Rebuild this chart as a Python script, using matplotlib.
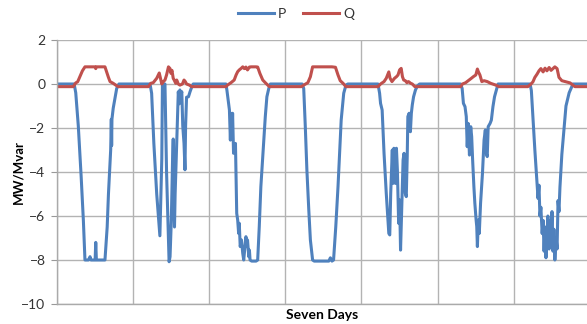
import numpy as np
import matplotlib.pyplot as plt

# night-time levels
P_NIGHT = 0.0
Q_NIGHT = -0.12

# ---- P (MW), hour of day / value, one pair of lists per day ----
p1_h = [5.5, 6.0, 6.8, 7.7, 8.4, 8.9, 10.0, 10.5, 10.8, 12.1, 12.3, 12.5, 15.2, 15.9, 16.3, 16.6, 17.0, 17.2, 17.3, 17.4, 17.8, 18.4, 18.9, 19.6]
p1_v = [0, -0.4, -1.9, -4.2, -6.2, -8.0, -8.0, -7.85, -8.0, -8.0, -7.2, -8.0, -8.0, -6.5, -5.0, -4.1, -3.0, -1.6, -2.8, -1.6, -1.1, -0.6, -0.2, 0]

p2_h = [5.4, 5.9, 6.6, 7.5, 8.5, 9.1, 9.3, 10.1, 10.6, 11.4, 11.7, 12.1, 12.5, 12.7, 13.1, 13.3, 13.8, 14.3, 14.6, 14.8, 15.0, 15.4, 15.7, 16.1, 16.4, 16.6, 16.9, 17.5, 18.0, 18.5, 19.0]
p2_v = [0, -0.42, -2.7, -5.0, -6.9, -3.4, 0, 0, -4.0, -8.08, -7.85, -6.2, -3.4, -2.5, -6.5, -5.0, -2.7, -0.35, -0.9, -0.27, -0.6, -0.35, -1.9, -2.7, -3.9, -1.9, -0.6, -0.58, -0.35, -0.15, 0]

p3_h = [5.3, 5.6, 6.4, 6.7, 6.9, 7.2, 7.4, 7.7, 8.3, 8.5, 8.7, 9.0, 9.3, 9.5, 9.8, 10.2, 10.6, 10.9, 11.2, 11.6, 11.9, 12.1, 12.5, 12.7, 12.9, 13.4, 14.8, 15.3, 15.8, 16.3, 17.1, 17.7, 18.2, 18.8, 19.3]
p3_v = [0, -0.27, -1.18, -2.55, -1.33, -2.39, -1.33, -3.15, -2.7, -4.21, -5.88, -6.18, -6.79, -6.33, -7.39, -7.09, -7.7, -8.0, -7.55, -6.94, -7.39, -7.09, -7.85, -7.55, -8.0, -8.05, -8.05, -8.0, -6.48, -4.67, -2.85, -1.48, -0.58, -0.2, 0]

p4_h = [5.3, 5.8, 6.3, 6.8, 7.4, 7.9, 8.6, 9.1, 13.7, 14.2, 14.7, 15.2, 15.9, 16.6, 17.0, 17.6, 18.4, 19.1, 19.7]
p4_v = [0, -0.2, -1.94, -3.91, -5.73, -7.09, -8.0, -8.05, -8.05, -7.9, -8.05, -8.0, -6.48, -4.67, -3.45, -1.64, -0.42, -0.05, 0]

p5_h = [5.2, 5.7, 6.0, 6.5, 7.1, 7.8, 8.6, 8.9, 9.2, 9.7, 9.9, 10.2, 10.7, 11.0, 11.3, 11.7, 12.0, 12.3, 12.7, 13.1, 13.4, 13.8, 14.1, 14.4, 14.6, 15.0, 15.4, 15.7, 16.0, 16.4, 17.0, 17.6, 18.3]
p5_v = [0, -0.42, -0.88, -1.18, -3.15, -4.97, -6.79, -6.86, -4.97, -3.0, -4.52, -2.92, -4.52, -2.92, -3.91, -6.33, -5.27, -7.55, -5.58, -3.45, -3.15, -4.97, -5.12, -3.3, -1.48, -1.33, -2.17, -1.33, -0.95, -0.58, -0.27, -0.09, 0]

p6_h = [7.2, 7.7, 8.1, 8.6, 9.0, 9.3, 9.6, 10.0, 10.4, 10.7, 11.0, 11.4, 11.7, 12.1, 12.3, 12.5, 12.8, 13.1, 13.5, 14.1, 14.6, 15.0, 15.3, 15.6, 15.9, 16.5, 16.9, 17.4, 17.9, 18.6, 19.0]
p6_v = [0, -0.2, -0.88, -1.03, -1.48, -2.85, -1.79, -3.23, -1.94, -2.39, -3.45, -4.67, -5.42, -6.18, -6.48, -7.39, -6.18, -6.79, -5.42, -4.06, -2.55, -2.09, -3.15, -3.3, -1.94, -1.79, -1.64, -1.03, -0.58, -0.2, 0]

p7_h = [5.1, 5.5, 6.0, 6.6, 7.3, 7.6, 7.9, 8.2, 8.5, 8.9, 9.2, 9.5, 9.8, 10.1, 10.4, 10.7, 11.1, 11.4, 11.7, 12.0, 12.3, 12.6, 12.9, 13.3, 13.6, 13.9, 14.2, 14.5, 15.1, 15.8, 16.4, 17.4, 18.6]
p7_v = [0, -0.3, -1.5, -3.0, -4.5, -5.2, -4.6, -6.0, -5.6, -6.8, -6.2, -7.6, -6.5, -7.9, -7.0, -6.0, -7.5, -6.2, -7.2, -5.8, -7.6, -6.6, -8.0, -7.0, -7.5, -5.3, -5.8, -4.7, -3.2, -2.0, -1.0, -0.4, 0]

# ---- Q (Mvar) ----
q1_h = [5.2, 6.0, 6.6, 7.3, 8.1, 8.9, 12.1, 12.3, 12.5, 15.2, 16.3, 16.8, 17.8, 18.9, 19.4]
q1_v = [-0.12, 0.05, 0.1, 0.33, 0.6, 0.78, 0.78, 0.7, 0.78, 0.78, 0.3, 0.11, 0.03, -0.08, -0.12]

q2_h = [4.9, 5.6, 6.4, 7.5, 8.3, 8.7, 9.1, 9.6, 10.1, 10.6, 11.2, 11.7, 12.0, 12.3, 12.7, 13.0, 13.5, 13.8, 14.3, 14.8, 15.6, 16.1, 16.5, 16.9, 17.8, 18.5]
q2_v = [-0.12, 0.03, 0.06, 0.26, 0.5, 0.26, 0.0, 0.11, 0.18, 0.41, 0.78, 0.7, 0.48, 0.62, 0.26, 0.18, 0.03, 0.18, 0.0, -0.05, 0.0, 0.18, 0.11, 0.0, -0.05, -0.12]

q3_h = [5.3, 5.8, 6.9, 7.9, 8.5, 9.0, 9.5, 10.1, 10.6, 11.1, 11.6, 12.1, 12.7, 13.2, 14.8, 15.3, 16.0, 16.9, 17.9, 19.0]
q3_v = [-0.12, -0.05, 0.06, 0.18, 0.41, 0.56, 0.64, 0.71, 0.78, 0.7, 0.77, 0.64, 0.77, 0.78, 0.78, 0.77, 0.48, 0.18, 0.03, -0.12]

q4_h = [5.1, 5.8, 7.1, 7.9, 8.6, 14.7, 15.8, 16.6, 17.3, 18.2, 19.1]
q4_v = [-0.12, -0.05, 0.06, 0.33, 0.78, 0.78, 0.76, 0.41, 0.15, 0.03, -0.12]

q5_h = [5.2, 6.0, 7.1, 7.8, 8.6, 9.0, 9.6, 10.4, 11.0, 11.5, 12.0, 12.5, 12.9, 13.3, 13.8, 14.3, 14.8, 15.5, 16.0, 16.8]
q5_v = [-0.12, 0.0, 0.11, 0.26, 0.55, 0.26, 0.11, 0.26, 0.33, 0.41, 0.64, 0.71, 0.33, 0.18, 0.15, 0.06, 0.11, 0.03, 0.0, -0.12]

q6_h = [7.2, 7.8, 8.8, 9.9, 10.6, 11.2, 12.0, 12.5, 12.8, 13.3, 13.9, 14.6, 15.6, 16.7, 18.3, 19.3]
q6_v = [-0.12, 0.0, 0.06, 0.18, 0.26, 0.33, 0.41, 0.68, 0.56, 0.41, 0.11, 0.15, 0.11, 0.03, -0.05, -0.12]

q7_h = [4.4, 5.4, 6.0, 6.6, 7.3, 7.9, 8.5, 9.2, 9.8, 10.4, 11.1, 11.7, 12.3, 12.9, 13.6, 14.2, 15.1, 16.4, 17.7, 19.2]
q7_v = [-0.12, 0.0, 0.1, 0.3, 0.45, 0.6, 0.7, 0.55, 0.72, 0.6, 0.75, 0.62, 0.7, 0.78, 0.7, 0.3, 0.15, 0.1, 0.05, -0.12]

p_days = [(p1_h, p1_v), (p2_h, p2_v), (p3_h, p3_v), (p4_h, p4_v), (p5_h, p5_v), (p6_h, p6_v), (p7_h, p7_v)]
q_days = [(q1_h, q1_v), (q2_h, q2_v), (q3_h, q3_v), (q4_h, q4_v), (q5_h, q5_v), (q6_h, q6_v), (q7_h, q7_v)]


def build_series(days, night):
    # stitch the daily pieces into one week, x in days
    t = []
    v = []
    for k, (hh, vv) in enumerate(days):
        t += [k + 0.0] + [k + h / 24 for h in hh]
        v += [night] + list(vv)
    t.append(len(days))
    v.append(night)
    return np.array(t), np.array(v)


t_p, v_p = build_series(p_days, P_NIGHT)
t_q, v_q = build_series(q_days, Q_NIGHT)

plt.rcParams['font.family'] = ['Lato', 'DejaVu Sans']

fig = plt.figure(figsize=(5.87, 3.24), dpi=100)
ax = fig.add_axes([56.7 / 587, 20 / 324, 533.4 / 587, 264 / 324])

ax.plot(t_p, v_p, color='#4F81BD', lw=2.2, label='P', solid_joinstyle='round')
ax.plot(t_q, v_q, color='#C0504D', lw=2.2, label='Q', solid_joinstyle='round')

ax.set_xlim(0, 7)
ax.set_ylim(-10, 2)
ax.set_yticks(np.arange(-10, 3, 2))
ax.set_xticks(np.arange(0, 8, 1))
ax.set_xticklabels([])
ax.tick_params(axis='x', length=0)
ax.tick_params(axis='y', length=4, color='#999999', labelsize=10, pad=4, labelcolor='#333333')
ax.grid(True, color='#b3b3b3', lw=1)
ax.set_axisbelow(True)
for s in ['top', 'right']:
    ax.spines[s].set_visible(False)
for s in ['left', 'bottom']:
    ax.spines[s].set_color('#aaaaaa')
    ax.spines[s].set_linewidth(1)

fig.text(18 / 587, 1 - 172 / 324, 'MW/Mvar', fontsize=9.5, fontweight='bold', rotation=90,
         ha='center', va='center')
fig.text(322 / 587, 1 - 315 / 324, 'Seven Days', fontsize=10, fontweight='bold', ha='center', va='center')

fig.legend(loc='center', bbox_to_anchor=(296 / 587, 1 - 14 / 324), ncol=2, frameon=False,
           fontsize=10, handlelength=2.6, columnspacing=1.2, handletextpad=0.3, labelcolor='#333333')

fig.savefig('out.png', dpi=100)
